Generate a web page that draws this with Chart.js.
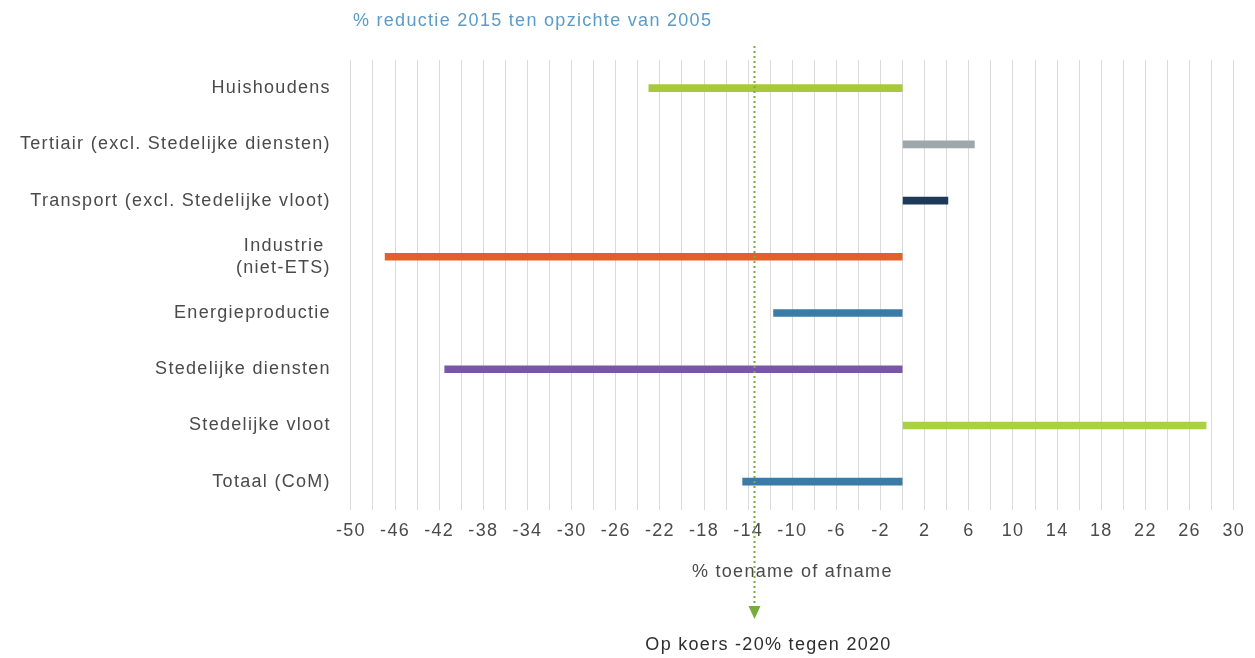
<!DOCTYPE html>
<html>
<head>
<meta charset="utf-8">
<script src="https://cdn.jsdelivr.net/npm/chart.js@4.4.1/dist/chart.umd.min.js"></script>
<style>
  html, body { margin: 0; padding: 0; background: #fff; }
  canvas { display: block; }
</style>
</head>
<body>
<canvas id="reductionChart" width="1255" height="658"></canvas>
<script>
// categories (y axis)
const sectors = [
    'Huishoudens',
    'Tertiair (excl. Stedelijke diensten)',
    'Transport (excl. Stedelijke vloot)',
    ['Industrie ', '(niet-ETS)'],
    'Energieproductie',
    'Stedelijke diensten',
    'Stedelijke vloot',
    'Totaal (CoM)'
];
// % change 2015 vs 2005
const changePct = [-23, 6.5, 4.1, -46.9, -11.7, -41.5, 27.5, -14.5];
const barColors = ['#a9c93d', '#9ea7aa', '#1e3a5b', '#e0612b', '#3b7ba7', '#7a56a8', '#a9d140', '#3b7ba7'];

// x axis: -50..30, grid every 2, label every 4
const xMin = -50;
const xMax = 30;
const gridStep = 2;
const labelStep = 4;

// course line
const targetValue = -13.5;
const targetLabel = 'Op koers -20% tegen 2020';
const chartTitle = '% reductie 2015 ten opzichte van 2005';
const xTitle = '% toename of afname';

const FONT = '"Liberation Sans", Arial, sans-serif';
const TEXT = '#4a4a4a';
const SPACING = '1.3px';

// canvas letter spacing, the original uses wide tracking
const spacingPlugin = {
    id: 'spacing',
    beforeUpdate(chart) { chart.ctx.letterSpacing = SPACING; },
    beforeDraw(chart) { chart.ctx.letterSpacing = SPACING; }
};

// title above plot + dotted target arrow
const overlayPlugin = {
    id: 'overlay',
    afterDraw(chart) {
        const ctx = chart.ctx;
        const area = chart.chartArea;
        const x = Math.round(chart.scales.x.getPixelForValue(targetValue)) + 0.5;
        ctx.save();
        ctx.letterSpacing = SPACING;

        ctx.font = '18px ' + FONT;
        ctx.fillStyle = '#5a9bc9';
        ctx.textAlign = 'left';
        ctx.textBaseline = 'middle';
        ctx.fillText(chartTitle, area.left + 2, 21);

        ctx.strokeStyle = '#76ad3c';
        ctx.lineWidth = 2;
        ctx.setLineDash([2, 3]);
        ctx.beginPath();
        ctx.moveTo(x, 46);
        ctx.lineTo(x, 606);
        ctx.stroke();
        ctx.setLineDash([]);

        ctx.fillStyle = '#76ad3c';
        ctx.beginPath();
        ctx.moveTo(x - 6, 606);
        ctx.lineTo(x + 6, 606);
        ctx.lineTo(x, 619);
        ctx.closePath();
        ctx.fill();

        ctx.font = '18px ' + FONT;
        ctx.fillStyle = '#2e2e2e';
        ctx.textAlign = 'center';
        ctx.fillText(targetLabel, x + 14, 645);
        ctx.restore();
    }
};

new Chart(document.getElementById('reductionChart').getContext('2d'), {
    type: 'bar',
    data: {
        labels: sectors,
        datasets: [{
            data: changePct,
            backgroundColor: barColors,
            barThickness: 7,
            borderWidth: 0
        }]
    },
    options: {
        indexAxis: 'y',
        responsive: false,
        animation: false,
        layout: { padding: { top: 60, left: 0, right: 18, bottom: 75 } },
        plugins: {
            legend: { display: false },
            tooltip: { enabled: false },
            title: { display: false }
        },
        scales: {
            x: {
                type: 'linear',
                min: xMin,
                max: xMax,
                grid: { color: '#dadada', lineWidth: 1, drawTicks: false },
                border: { display: false },
                ticks: {
                    stepSize: gridStep,
                    autoSkip: false,
                    maxRotation: 0,
                    padding: 10,
                    color: TEXT,
                    font: { family: FONT, size: 18 },
                    callback: v => ((v - xMin) % labelStep === 0 ? String(v) : '')
                },
                title: {
                    display: true,
                    text: xTitle,
                    color: TEXT,
                    font: { family: FONT, size: 18 },
                    padding: { top: 10, bottom: 0 }
                }
            },
            y: {
                grid: { display: false, drawTicks: false },
                border: { display: false },
                ticks: {
                    padding: 20,
                    color: TEXT,
                    font: { family: FONT, size: 18, lineHeight: 1.25 }
                }
            }
        }
    },
    plugins: [spacingPlugin, overlayPlugin]
});
</script>
</body>
</html>
